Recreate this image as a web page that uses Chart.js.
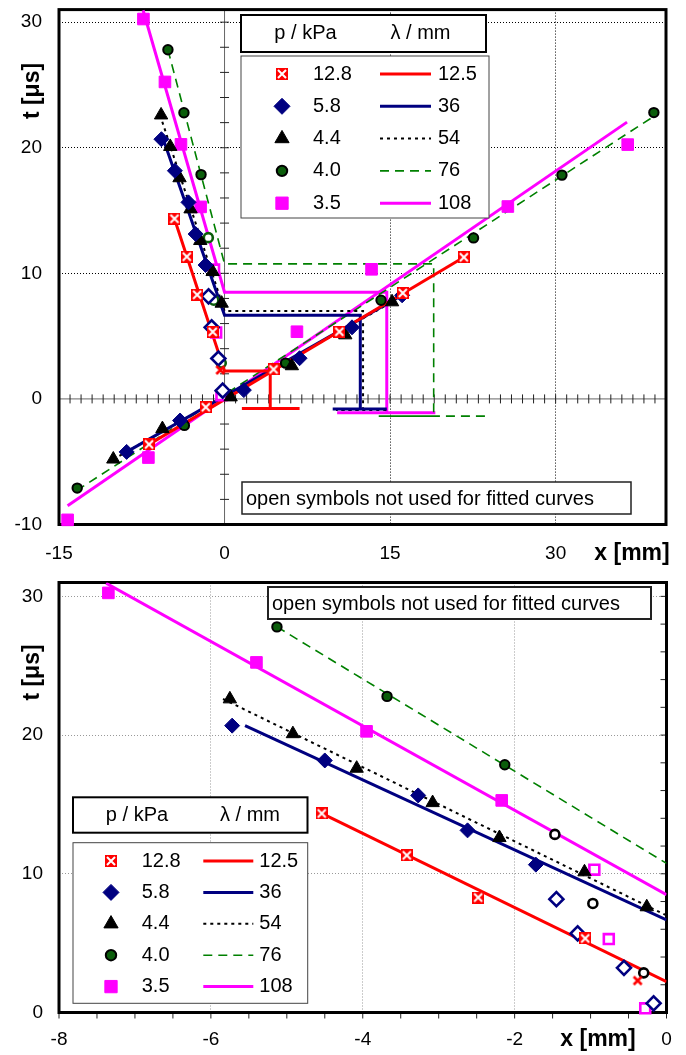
<!DOCTYPE html>
<html>
<head>
<meta charset="utf-8">
<title>x-t diagram</title>
<script src="https://cdn.jsdelivr.net/npm/chart.js@4.4.1/dist/chart.umd.min.js"></script>
<style>
  html, body { margin: 0; padding: 0; background: #fff; }
  canvas { position: absolute; left: 0; }
  #cTop { top: 0; }
  #cBot { top: 570px; }
</style>
</head>
<body>
<canvas id="cTop" width="686" height="570"></canvas>
<canvas id="cBot" width="686" height="485"></canvas>
<script>
// ---------------- legend labels ----------------
const pressures = ['12.8', '5.8', '4.4', '4.0', '3.5'];   // p / kPa
const lambdas = ['12.5', '36', '54', '76', '108'];        // λ / mm

// ---------------- ticks & grid ----------------
const topXTicks = [-15, 0, 15, 30];
const topYTicks = [-10, 0, 10, 20, 30];
const topGridX = [15, 30];
const topGridY = [10, 20, 30];
const topMinorX = 1;   // small ticks on the t = 0 axis
const topMinorY = 2;   // small ticks on the x = 0 axis
const botXTicks = [-8, -6, -4, -2, 0];
const botYTicks = [0, 10, 20, 30];
const botGridX = [-6, -4, -2];
const botGridY = [10, 20, 30];
const botMinorX = 0.5;
const botMinorY = 2;

// ---------------- 12.8 kPa  [x mm, t us] ----------------
const redUp = [[-4.54, 14.35], [-3.42, 11.33], [-2.48, 8.29], [-1.07, 5.34]];
const redUpOpen = [[-0.38, 2.30]];
const redDiag = [[-6.84, -3.62], [-1.70, -0.66], [4.44, 2.35], [10.40, 5.35], [16.15, 8.43], [21.68, 11.28]];
const redFitUp = [[-4.54, 14.35], [0, 2.22]];
const redFitLambda = [[0, 2.22], [4.14, 2.22], [4.14, -0.77], [1.57, -0.77], [6.80, -0.77]];
const redFitDiag = [[-6.84, -3.62], [21.68, 11.28]];

// ---------------- 5.8 kPa ----------------
const blueUp = [[-5.72, 20.68], [-4.50, 18.17], [-3.27, 15.65], [-2.62, 13.13], [-1.72, 10.66]];
const blueUpOpen = [[-1.45, 8.17], [-1.17, 5.70], [-0.56, 3.22], [-0.17, 0.66]];
const blueDiag = [[-8.87, -4.22], [-4.03, -1.72], [1.75, 0.70], [6.80, 3.24], [11.55, 5.70], [16.09, 8.25]];
const blueFitUp = [[-5.55, 20.68], [0, 6.67]];
const blueFitLambda = [[0, 6.67], [12.30, 6.67], [12.30, -0.80], [9.80, -0.80], [14.70, -0.80]];
const blueFitDiag = [[-8.87, -4.22], [16.09, 8.25]];

// ---------------- 4.4 kPa ----------------
const blackUp = [[-5.75, 22.60], [-4.92, 20.09], [-4.08, 17.60], [-3.08, 15.12], [-2.20, 12.60], [-1.08, 10.13], [-0.26, 7.61]];
const blackUpOpen = [];
const blackDiag = [[-10.08, -4.80], [-5.63, -2.38], [0.55, 0.15], [6.10, 2.63], [10.94, 5.09], [15.18, 7.72]];
const blackFitUp = [[-5.84, 22.60], [0, 7.00]];
const blackFitLambda = [[0, 7.00], [12.55, 7.00], [12.55, -0.88], [10.10, -0.88], [15.00, -0.88]];
const blackFitDiag = [[-10.08, -4.80], [15.18, 7.72]];

// ---------------- 4.0 kPa ----------------
const greenUp = [[-5.13, 27.80], [-3.68, 22.79], [-2.13, 17.86]];
const greenUpOpen = [[-1.47, 12.84], [-0.97, 7.86], [-0.30, 2.86]];
const greenDiag = [[-13.35, -7.10], [-3.64, -2.11], [5.53, 2.85], [14.18, 7.86], [22.56, 12.82], [30.57, 17.82], [38.90, 22.80]];
const greenFitUp = [[-5.13, 27.80], [0, 10.75]];
const greenFitLambda = [[0, 10.75], [18.95, 10.75], [18.95, -1.37], [13.97, -1.37], [23.92, -1.37]];
const greenFitDiag = [[-13.40, -7.30], [38.90, 22.50]];

// ---------------- 3.5 kPa ----------------
const pinkUp = [[-7.35, 30.25], [-5.40, 25.24], [-3.95, 20.27], [-2.17, 15.29]];
const pinkUpOpen = [[-0.95, 10.30], [-0.76, 5.29], [-0.28, 0.30]];
const pinkDiag = [[-14.22, -9.63], [-6.90, -4.67], [6.56, 5.35], [13.32, 10.32], [25.67, 15.32], [36.53, 20.25]];
const pinkFitUp = [[-7.38, 30.95], [0, 8.50]];
const pinkFitLambda = [[0, 8.50], [14.70, 8.50], [14.70, -1.11], [10.20, -1.11], [19.10, -1.11]];
const pinkFitDiag = [[-14.22, -8.50], [36.47, 22.04]];

// ---------------- styles ----------------
const FAMILY = "'Liberation Sans', Arial, sans-serif";
const FONT = '20px ' + FAMILY;
const TITLE_FONT = 'bold 23px ' + FAMILY;
const NOTE = 'open symbols not used for fitted curves';

// r = filled radius, ro = open radius
const seriesStyle = [
  {shape: 'cross', color: '#ff0000', edge: '#ff0000', r: 6, ro: 6, bw: 0, line: '#ff0000', dash: [], lw: 3},
  {shape: 'rectRot', color: '#000080', edge: '#000080', r: 7.5, ro: 7, bw: 1, line: '#000080', dash: [], lw: 3},
  {shape: 'triangle', color: '#000000', edge: '#000000', r: 7.7, ro: 7, bw: 1, line: '#000000', dash: [3, 4], lw: 2},
  {shape: 'circle', color: '#0b5d0b', edge: '#000000', r: 4.7, ro: 4.5, bw: 2, line: '#008000', dash: [9, 6], lw: 1.6},
  {shape: 'rect', color: '#ff00ff', edge: '#ff00ff', r: 8.2, ro: 7, bw: 1, line: '#ff00ff', dash: [], lw: 3}
];
const openEdgeTop = ['#ff0000', '#000080', '#000000', '#0b5d0b', '#ff00ff'];
const openEdgeBot = ['#ff0000', '#000080', '#000000', '#000000', '#ff00ff'];

const series = [
  {up: redUp, open: redUpOpen, diag: redDiag, fitUp: redFitUp, lambda: redFitLambda, fitDiag: redFitDiag},
  {up: blueUp, open: blueUpOpen, diag: blueDiag, fitUp: blueFitUp, lambda: blueFitLambda, fitDiag: blueFitDiag},
  {up: blackUp, open: blackUpOpen, diag: blackDiag, fitUp: blackFitUp, lambda: blackFitLambda, fitDiag: blackFitDiag},
  {up: greenUp, open: greenUpOpen, diag: greenDiag, fitUp: greenFitUp, lambda: greenFitLambda, fitDiag: greenFitDiag},
  {up: pinkUp, open: pinkUpOpen, diag: pinkDiag, fitUp: pinkFitUp, lambda: pinkFitLambda, fitDiag: pinkFitDiag}
];

// ---------------- markers ----------------
function crossMarker(open) {
  const c = document.createElement('canvas');
  c.width = 12; c.height = 12;
  const g = c.getContext('2d');
  if (!open) {
    g.fillStyle = '#ff0000';
    g.fillRect(0, 0, 12, 12);
    g.strokeStyle = '#ffffff';
    g.lineWidth = 2;
  } else {
    g.strokeStyle = '#ff0000';
    g.lineWidth = 2.6;
  }
  g.beginPath();
  g.moveTo(2, 2); g.lineTo(10, 10);
  g.moveTo(10, 2); g.lineTo(2, 10);
  g.stroke();
  return c;
}
const crossFull = crossMarker(false);
const crossOpen = crossMarker(true);

function xy(a) { return a.map(p => ({x: p[0], y: p[1]})); }

function pointSet(data, st, open, edge) {
  let style = st.shape;
  let r = open ? st.ro : st.r;
  if (st.shape === 'cross') { style = open ? crossOpen : crossFull; r = 6; }
  return {
    data: xy(data), showLine: false, clip: false, order: 0,
    pointStyle: style, pointRadius: r,
    backgroundColor: open ? '#ffffff' : st.color,
    borderColor: open ? edge : st.edge,
    borderWidth: open ? 2.6 : st.bw
  };
}

function lineSet(data, st) {
  return {
    data: xy(data), showLine: true, order: 1, pointRadius: 0,
    borderColor: st.line, borderWidth: st.lw, borderDash: st.dash
  };
}

// ---------------- scales ----------------
function axis(min, max, ticks, gridAt, gridColor, pad, size, isX) {
  return {
    type: 'linear', min, max,
    afterBuildTicks: s => { s.ticks = ticks.map(v => ({value: v})); },
    afterFit: s => {
      if (isX) s.height = size; else s.width = size;
      s.paddingTop = 0; s.paddingBottom = 0; s.paddingLeft = 0; s.paddingRight = 0;
    },
    ticks: {color: '#000', font: {family: FAMILY, size: 19}, padding: pad, maxRotation: 0, autoSkip: false, callback: v => String(v)},
    grid: {drawTicks: false, lineWidth: 1, color: c => (c.tick && gridAt.includes(c.tick.value)) ? gridColor : 'rgba(0,0,0,0)'},
    border: {display: false, dash: [1, 2]}
  };
}

// ---------------- legend / note / titles ----------------
function drawLegend(ctx, L) {
  ctx.save();
  ctx.fillStyle = '#fff';
  ctx.fillRect(L.x, L.hy, L.hw, L.hh);
  ctx.lineWidth = 2; ctx.strokeStyle = '#000';
  ctx.strokeRect(L.x, L.hy, L.hw, L.hh);
  ctx.font = FONT; ctx.fillStyle = '#000';
  ctx.textAlign = 'center'; ctx.textBaseline = 'middle';
  ctx.fillText('p / kPa', L.x + L.pc, L.hy + L.hh / 2);
  ctx.fillText('λ / mm', L.x + L.lc, L.hy + L.hh / 2);

  ctx.fillStyle = '#fff';
  ctx.fillRect(L.x, L.ey, L.ew, L.eh);
  ctx.lineWidth = 1; ctx.strokeStyle = '#444';
  ctx.strokeRect(L.x, L.ey, L.ew, L.eh);

  pressures.forEach((p, i) => {
    const st = seriesStyle[i];
    const y = L.ry + i * L.rs;
    const mx = L.x + L.mx;
    if (st.shape === 'cross') {
      ctx.drawImage(crossFull, mx - 6, y - 6);
    } else {
      ctx.fillStyle = st.color; ctx.strokeStyle = st.edge;
      ctx.lineWidth = st.bw;
      Chart.helpers.drawPoint(ctx, {pointStyle: st.shape, radius: st.r + 0.5, rotation: 0, borderWidth: st.bw}, mx, y);
    }
    ctx.fillStyle = '#000'; ctx.textAlign = 'left';
    ctx.fillText(p, L.x + L.tx, y);
    ctx.beginPath();
    ctx.setLineDash(st.dash); ctx.lineWidth = st.lw; ctx.strokeStyle = st.line;
    ctx.moveTo(L.x + L.l0, y); ctx.lineTo(L.x + L.l1, y);
    ctx.stroke();
    ctx.setLineDash([]);
    ctx.fillText(lambdas[i], L.x + L.lt, y);
  });
  ctx.restore();
}

function drawNote(ctx, x, y, w, h, lw) {
  ctx.save();
  ctx.fillStyle = '#fff'; ctx.fillRect(x, y, w, h);
  ctx.lineWidth = lw; ctx.strokeStyle = '#222'; ctx.strokeRect(x, y, w, h);
  ctx.font = FONT; ctx.fillStyle = '#000';
  ctx.textAlign = 'left'; ctx.textBaseline = 'middle';
  ctx.fillText(NOTE, x + 4, y + h / 2 + 1);
  ctx.restore();
}

function drawTitles(ctx, tx, ty, xx, xy0) {
  ctx.save();
  ctx.font = TITLE_FONT; ctx.fillStyle = '#000';
  ctx.textAlign = 'center'; ctx.textBaseline = 'middle';
  ctx.fillText('x [mm]', xx, xy0);
  ctx.translate(tx, ty); ctx.rotate(-Math.PI / 2);
  ctx.fillText('t [μs]', 0, 0);
  ctx.restore();
}

// ---------------- top chart: full x-t diagram ----------------
const topLegend = {x: 241, hy: 15, hw: 245, hh: 37, pc: 64.5, lc: 179.5,
  ey: 56, ew: 248, eh: 162, ry: 74, rs: 32.3, mx: 41, tx: 72, l0: 139, l1: 190, lt: 197};

const topDecor = {
  id: 'topDecor',
  beforeDatasetsDraw(chart) {
    const {ctx, chartArea: a, scales: {x, y}} = chart;
    const x0 = x.getPixelForValue(0), y0 = y.getPixelForValue(0);
    ctx.save();
    ctx.lineWidth = 1; ctx.strokeStyle = '#666';
    ctx.beginPath();
    ctx.moveTo(x0, a.top); ctx.lineTo(x0, a.bottom);
    ctx.moveTo(a.left, y0); ctx.lineTo(a.right, y0);
    ctx.stroke();
    ctx.strokeStyle = '#222';
    ctx.beginPath();
    for (let v = x.min + topMinorX; v < x.max; v += topMinorX) {
      const p = x.getPixelForValue(v);
      ctx.moveTo(p, y0 - 4.5); ctx.lineTo(p, y0 + 4.5);
    }
    for (let v = y.min + topMinorY; v < y.max; v += topMinorY) {
      const p = y.getPixelForValue(v);
      ctx.moveTo(x0 - 4.5, p); ctx.lineTo(x0 + 4.5, p);
    }
    ctx.stroke();
    ctx.lineWidth = 3; ctx.strokeStyle = '#000';
    ctx.strokeRect(a.left, a.top, a.width, a.height);
    ctx.restore();
  },
  afterDatasetsDraw(chart) {
    const ctx = chart.ctx;
    drawLegend(ctx, topLegend);
    drawNote(ctx, 242, 482, 389, 32, 1.5);
    drawTitles(ctx, 33, 91, 632, 554);
  }
};

const topSets = [];
series.forEach((s, i) => {
  const st = seriesStyle[i];
  topSets.push(pointSet(s.up.concat(s.diag), st, false));
  topSets.push(pointSet(s.open, st, true, openEdgeTop[i]));
  topSets.push(lineSet(s.fitUp.concat(s.lambda.slice(1)), st));
  topSets.push(lineSet(s.fitDiag, st));
});

new Chart(document.getElementById('cTop'), {
  type: 'scatter',
  data: {datasets: topSets},
  options: {
    responsive: false, animation: false, devicePixelRatio: 1, events: [],
    layout: {padding: {top: 8, right: 20, left: 0, bottom: 0}},
    plugins: {legend: {display: false}, tooltip: {enabled: false}},
    scales: {
      x: axis(-15, 40, topXTicks, topGridX, '#000', 18, 45.5, true),
      y: axis(-10, 31, topYTicks, topGridY, '#000', 17, 59, false)
    }
  },
  plugins: [topDecor]
});

// ---------------- bottom chart: zoom on x < 0 ----------------
const botLegend = {x: 73, hy: 227.3, hw: 234.5, hh: 35.4, pc: 64, lc: 177,
  ey: 272.7, ew: 234.7, eh: 160.6, ry: 291, rs: 31.4, mx: 38, tx: 68.7, l0: 130.3, l1: 180.3, lt: 186.3};

const botDecor = {
  id: 'botDecor',
  beforeDatasetsDraw(chart) {
    const {ctx, chartArea: a, scales: {x, y}} = chart;
    ctx.save();
    ctx.lineWidth = 1; ctx.strokeStyle = '#222';
    ctx.beginPath();
    for (let v = x.min; v <= x.max; v += botMinorX) {
      const p = x.getPixelForValue(v);
      ctx.moveTo(p, a.bottom); ctx.lineTo(p, a.bottom + 6);
    }
    for (let v = y.min + botMinorY; v < y.max; v += botMinorY) {
      const p = y.getPixelForValue(v);
      ctx.moveTo(a.right - 6, p); ctx.lineTo(a.right, p);
    }
    ctx.stroke();
    ctx.lineWidth = 3; ctx.strokeStyle = '#000';
    ctx.strokeRect(a.left, a.top, a.width, a.height);
    ctx.restore();
  },
  afterDatasetsDraw(chart) {
    const ctx = chart.ctx;
    drawLegend(ctx, botLegend);
    drawNote(ctx, 268, 17, 383, 32, 2);
    drawTitles(ctx, 33, 102.5, 598, 470);
  }
};

const botSets = [];
series.forEach((s, i) => {
  const st = seriesStyle[i];
  botSets.push(pointSet(s.up, st, false));
  botSets.push(pointSet(s.open, st, true, openEdgeBot[i]));
  botSets.push(lineSet(s.fitUp, st));
});

new Chart(document.getElementById('cBot'), {
  type: 'scatter',
  data: {datasets: botSets},
  options: {
    responsive: false, animation: false, devicePixelRatio: 1, events: [],
    layout: {padding: {top: 12.5, right: 19.5, left: 0, bottom: 0}},
    plugins: {legend: {display: false}, tooltip: {enabled: false}},
    scales: {
      x: axis(-8, 0, botXTicks, botGridX, '#999', 16, 42.5, true),
      y: axis(0, 31, botYTicks, botGridY, '#999', 16, 59, false)
    }
  },
  plugins: [botDecor]
});
</script>
</body>
</html>
